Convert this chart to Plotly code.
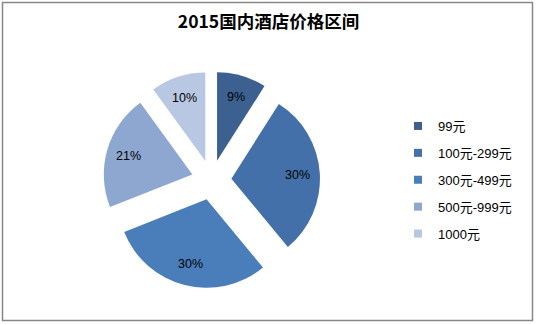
import math
import plotly.graph_objects as go

categories = ["99元", "100元-299元", "300元-499元", "500元-999元", "1000元"]
values = [9, 30, 30, 21, 10]
colors = ["#3C6190", "#4370A8", "#4A7EBB", "#8EA7D0", "#B9C8E2"]
title_text = "2015国内酒店价格区间"

W, H = 537, 325
font_fam = "Liberation Sans, Noto Sans CJK SC, sans-serif"

PULL = 0.225
CX, CY = 211.5, 180.0           # pie centre (px)
EXT = 108.5                     # half-size of pie domain (px)
R = EXT / (1 + PULL)            # unexploded radius

fig = go.Figure(go.Pie(
    labels=categories,
    values=values,
    sort=False,
    direction="clockwise",
    rotation=0,
    pull=[PULL] * len(values),
    marker=dict(colors=colors, line=dict(width=0)),
    textinfo="none",
    domain=dict(x=[(CX - EXT) / W, (CX + EXT) / W],
                y=[1 - (CY + EXT) / H, 1 - (CY - EXT) / H]),
    hoverinfo="skip",
    showlegend=False,
))

# percentage labels placed Excel-style along each slice bisector
total = sum(values)
cum = 0.0
annotations = []
for v in values:
    mid = (cum + v / 2) / total * 2 * math.pi
    cum += v
    dist = PULL * R + 0.75 * R
    px = CX + dist * math.sin(mid)
    py = CY - dist * math.cos(mid)
    annotations.append(dict(
        x=px / W, y=1 - py / H, xref="paper", yref="paper",
        text=f"{v / total:.0%}", showarrow=False,
        xanchor="center", yanchor="middle",
        font=dict(size=12.5, color="black", family=font_fam),
    ))

# legend entries (one per category, separate groups for spacing)
for i, (cat, col) in enumerate(zip(categories, colors)):
    fig.add_trace(go.Scatter(
        x=[None], y=[None], mode="markers", name=cat,
        marker=dict(symbol="square", size=8, color=col),
        legendgroup=f"g{i}", showlegend=True, hoverinfo="skip",
    ))

fig.update_layout(
    width=W, height=H,
    margin=dict(l=0, r=0, t=0, b=0),
    paper_bgcolor="white",
    plot_bgcolor="white",
    xaxis=dict(visible=False),
    yaxis=dict(visible=False),
    title=dict(text="<b>" + title_text + "</b>", x=0.5, xanchor="center",
               y=1 - 22 / H, yanchor="middle",
               font=dict(size=17.5, color="black", family="Noto Sans CJK SC, sans-serif")),
    legend=dict(x=398 / W, y=1 - 111 / H, xanchor="left", yanchor="top",
                font=dict(size=13, color="black", family=font_fam),
                tracegroupgap=7, traceorder="grouped",
                bgcolor="rgba(0,0,0,0)"),
    showlegend=True,
    annotations=annotations,
    shapes=[dict(type="rect", xref="paper", yref="paper",
                 x0=2.5 / W, x1=532.5 / W, y0=1 - 320.5 / H, y1=1 - 2.5 / H,
                 line=dict(color="#878787", width=1.5))],
)

fig.write_html("out.html")
